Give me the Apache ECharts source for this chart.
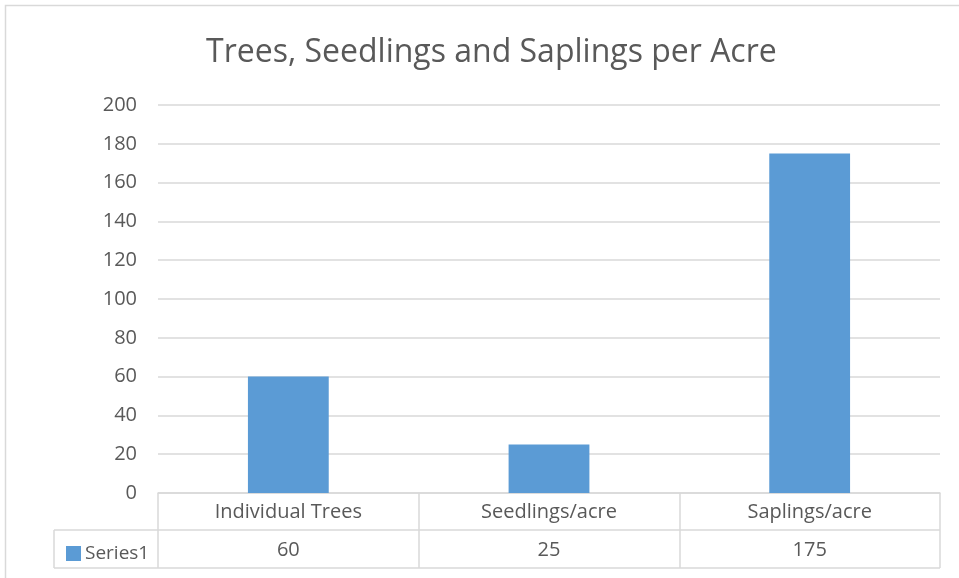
<!DOCTYPE html>
<html>
<head>
<meta charset="utf-8">
<script src="https://cdn.jsdelivr.net/npm/echarts@6/dist/echarts.min.js"></script>
<style>
    html, body { margin: 0; padding: 0; background: #fff; }
    #chart { width: 959px; height: 578px; }
</style>
</head>
<body>
<div id="chart"></div>
<script>
// data
const categories = ['Individual Trees', 'Seedlings/acre', 'Saplings/acre']
const seriesName = 'Series1'
const values = [60, 25, 175]
const yTicks = { min: 0, max: 200, interval: 20 }

const gridColor = '#d9d9d9'
const textColor = '#595959'
const font = 'Open Sans'

const chart = echarts.init(document.getElementById('chart'))

const option = {
    backgroundColor: '#fff',
    animation: false,
    title: {
        text: 'Trees, Seedlings and Saplings per Acre',
        left: 201,
        top: 32,
        textStyle: { color: textColor, fontSize: 32, fontWeight: 'normal', fontFamily: font },
    },
    legend: {
        left: 61,
        top: 539,
        itemWidth: 15,
        itemHeight: 15,
        itemGap: 5,
        icon: 'rect',
        textStyle: { color: textColor, fontSize: 19, fontFamily: font, padding: [0, 0, 0, -1] },
        data: [seriesName],
    },
    grid: { left: 158, right: 19, top: 105, bottom: 85 },
    xAxis: {
        type: 'category',
        data: categories,
        axisLine: { show: true, lineStyle: { color: gridColor, width: 1.5 } },
        axisTick: { show: true, interval: 0, length: 75, lineStyle: { color: gridColor, width: 1.5 } },
        axisLabel: {
            interval: 0,
            margin: 0,
            color: textColor,
            fontSize: 20,
            fontFamily: font,
            lineHeight: 38,
            formatter: (v, i) => v + '\n' + values[i],
        },
    },
    yAxis: {
        type: 'value',
        min: yTicks.min,
        max: yTicks.max,
        interval: yTicks.interval,
        axisLine: { show: false },
        axisTick: { show: false },
        axisLabel: { color: textColor, fontSize: 20, fontFamily: font, margin: 21 },
        splitLine: { lineStyle: { color: gridColor, width: 1.5 } },
    },
    graphic: [
        // outer chart border
        { type: 'rect', shape: { x: 5.5, y: 5.5, width: 970, height: 600 }, style: { fill: 'none', stroke: gridColor, lineWidth: 1.5 }, silent: true },
        // data table horizontal lines
        { type: 'line', shape: { x1: 54, y1: 530, x2: 940, y2: 530 }, style: { stroke: gridColor, lineWidth: 1.5 }, silent: true },
        { type: 'line', shape: { x1: 54, y1: 568, x2: 940, y2: 568 }, style: { stroke: gridColor, lineWidth: 1.5 }, silent: true },
        { type: 'line', shape: { x1: 54, y1: 530, x2: 54, y2: 568 }, style: { stroke: gridColor, lineWidth: 1.5 }, silent: true },
    ],
    series: [
        {
            name: seriesName,
            type: 'bar',
            data: values,
            barWidth: '31%',
            itemStyle: { color: '#5B9BD5' },
        },
    ],
}
option && chart.setOption(option)
</script>
</body>
</html>
